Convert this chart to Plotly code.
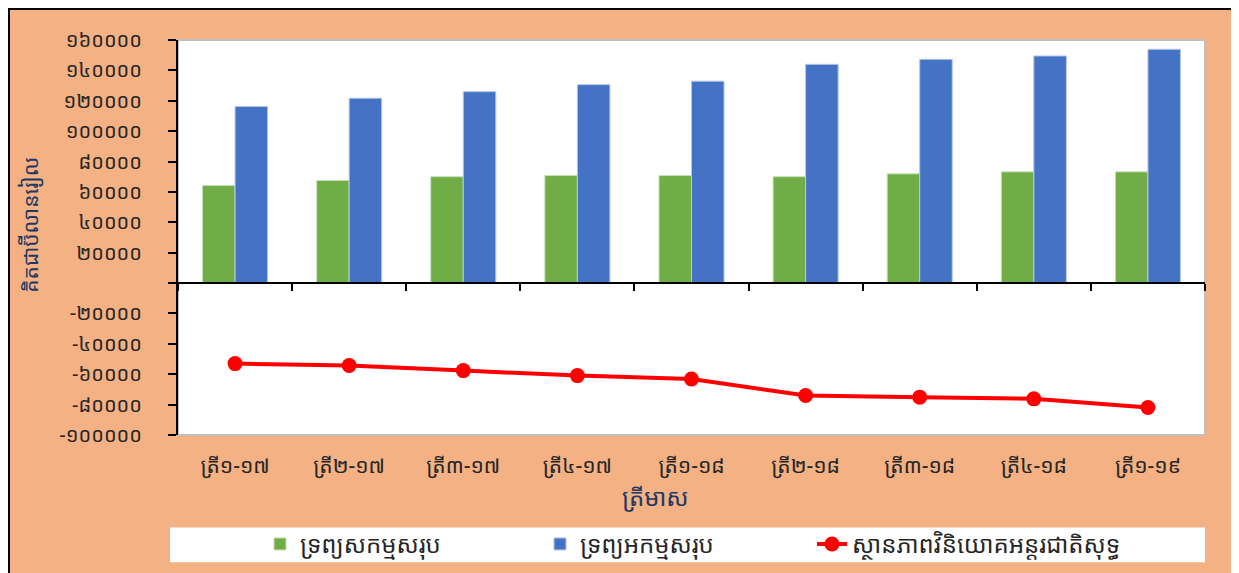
import plotly.graph_objects as go

# ---- data ----
categories = ["ត្រី១-១៧", "ត្រី២-១៧", "ត្រី៣-១៧", "ត្រី៤-១៧", "ត្រី១-១៨",
              "ត្រី២-១៨", "ត្រី៣-១៨", "ត្រី៤-១៨", "ត្រី១-១៩"]
total_assets = [64200, 67500, 70000, 70800, 70800, 70000, 71900, 73200, 73200]
total_liabilities = [116200, 121700, 126000, 130600, 132900, 144000, 147300, 149500, 153900]
net_iip = [-53000, -54300, -57600, -60900, -63100, -74000, -75100, -76200, -81900]

y_tickvals = [-100000, -80000, -60000, -40000, -20000, 0, 20000, 40000, 60000,
              80000, 100000, 120000, 140000, 160000]
y_ticktext = ["-១០០០០០", "-៨០០០០", "-៦០០០០", "-៤០០០០", "-២០០០០", "", "២០០០០", "៤០០០០",
              "៦០០០០", "៨០០០០", "១០០០០០", "១២០០០០", "១៤០០០០", "១៦០០០០"]

series_names = ["ទ្រព្យសកម្មសរុប", "ទ្រព្យអកម្មសរុប", "ស្ថានភាពវិនិយោគអន្តរជាតិសុទ្ធ"]
y_title = "គិតជាប៊ីលានរៀល"
x_title = "ត្រីមាស"

# ---- figure (pixel positions are in figure coordinates) ----
W, H = 1230, 573
ML, MT = 170, 32
PR, PB = 1197, 427.5          # plot right / bottom edges
MR, MB = W - PR, H - PB
pw, ph = PR - ML, PB - MT
y_range = [-100000, 160000]

def px_x(p):
    return (p - ML) / pw

def px_y(p):
    return (PB - p) / ph

KH = "Noto Sans Khmer, Khmer OS, Khmer OS System, Noto Serif Khmer, DejaVu Sans, sans-serif"

fig = go.Figure()
fig.add_trace(go.Bar(x=categories, y=total_assets, name=series_names[0], legend="legend",
                     marker=dict(color="#70AD47", line=dict(color="#C5E0B4", width=1))))
fig.add_trace(go.Bar(x=categories, y=total_liabilities, name=series_names[1], legend="legend2",
                     marker=dict(color="#4472C4", line=dict(color="#B4C7E7", width=1))))
fig.add_trace(go.Scatter(x=categories, y=net_iip, name=series_names[2], legend="legend3",
                         mode="lines+markers",
                         line=dict(color="#FF0000", width=4),
                         marker=dict(color="#FF0000", size=15, symbol="circle")))
# invisible helper on the zero-line axis
fig.add_trace(go.Scatter(x=categories, y=net_iip, xaxis="x2", mode="markers",
                         marker=dict(opacity=0), showlegend=False, hoverinfo="skip"))

zero_pos = (0 - y_range[0]) / (y_range[1] - y_range[0])

shapes = [
    # outer black border
    dict(type="rect", xref="paper", yref="paper", layer="below",
         x0=px_x(1), x1=px_x(W - 1), y0=px_y(H + 4), y1=px_y(1),
         fillcolor="#F4B183", line=dict(color="#000000", width=2)),
    # white plot area with light gray border
    dict(type="rect", xref="paper", yref="paper", layer="below",
         x0=0, x1=1.0, y0=0, y1=1.0,
         fillcolor="#FFFFFF", line=dict(color="#BFBFBF", width=2)),
    # white legend box
    dict(type="rect", xref="paper", yref="paper", layer="below",
         x0=px_x(162), x1=px_x(1197), y0=px_y(555), y1=px_y(520),
         fillcolor="#FFFFFF", line=dict(width=0)),
]

def legend_at(px):
    return dict(orientation="h", x=px_x(px), y=px_y(537), xanchor="left", yanchor="middle",
                bgcolor="rgba(0,0,0,0)", font=dict(size=24, color="#262626"))

fig.update_layout(
    width=W, height=H,
    margin=dict(l=ML, r=MR, t=MT, b=MB, pad=0),
    paper_bgcolor="#F4B183",
    plot_bgcolor="rgba(0,0,0,0)",
    barmode="group", bargap=0.43, bargroupgap=0,
    font=dict(family=KH, color="#262626", size=16),
    showlegend=True,
    legend=legend_at(252),
    legend2=legend_at(532),
    legend3=legend_at(804),
    xaxis=dict(type="category", categoryarray=categories, range=[-0.5, 8.5],
               showline=False, ticks="", showgrid=False, zeroline=False,
               tickfont=dict(size=21, color="#262626"), ticklabelstandoff=16),
    xaxis2=dict(type="category", categoryarray=categories, range=[-0.5, 8.5],
                overlaying="x", anchor="free", position=zero_pos, side="bottom",
                showline=True, linecolor="#000000", linewidth=1.5,
                ticks="outside", tickson="boundaries", ticklen=7, tickcolor="#000000",
                tickwidth=1.5, showticklabels=False, showgrid=False, zeroline=False),
    yaxis=dict(range=y_range, tickvals=y_tickvals, ticktext=y_ticktext,
               showline=True, linecolor="#000000", linewidth=2,
               ticks="outside", ticklen=8, tickcolor="#000000", tickwidth=1.5,
               showgrid=False, zeroline=False,
               tickfont=dict(size=20, color="#262626"), ticklabelstandoff=22),
    shapes=shapes,
    annotations=[
        dict(text=y_title, xref="paper", yref="paper", x=px_x(22), y=px_y(217),
             textangle=-90, showarrow=False, font=dict(size=21, color="#203864"),
             xanchor="center", yanchor="middle"),
        dict(text=x_title, xref="paper", yref="paper", x=px_x(647), y=px_y(489),
             showarrow=False, font=dict(size=24, color="#203864"),
             xanchor="center", yanchor="middle"),
    ],
)

fig.write_html("out.html")
